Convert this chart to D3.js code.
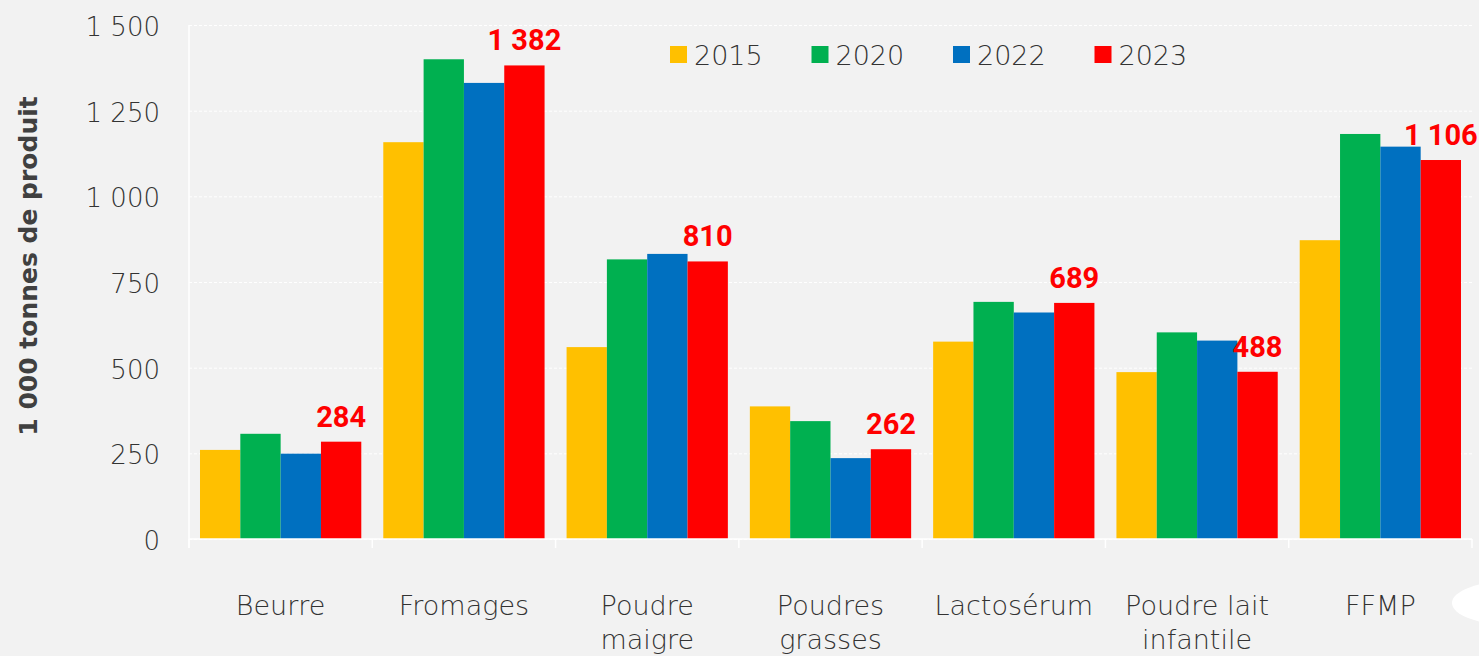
<!DOCTYPE html>
<html>
<head>
<meta charset="utf-8">
<script src="https://cdn.jsdelivr.net/npm/d3@7"></script>
<style>
  body { margin: 0; background: #f2f2f2; }
  svg { display: block; }
  text { font-family: "DejaVu Sans", sans-serif; }
  .grid line { stroke: #ffffff; stroke-dasharray: 3,2; }
  .grid path { display: none; }
  .grid text { fill: #333333; font-size: 26px; font-weight: 200; }
  .catLabel { fill: #333333; font-size: 27px; font-weight: 200; }
  .legendLabel { fill: #333333; font-size: 27px; font-weight: 200; }
  .valueLabel { fill: #ff0000; font-size: 29px; font-weight: bold; font-family: Roboto, sans-serif; }
  .yTitle { fill: #404040; font-size: 25px; font-weight: bold; }
</style>
</head>
<body>
<script>
var categories = ["Beurre", "Fromages", "Poudre maigre", "Poudres grasses", "Lactosérum", "Poudre lait infantile", "FFMP"];
var categoryLines = [["Beurre"], ["Fromages"], ["Poudre", "maigre"], ["Poudres", "grasses"], ["Lactosérum"], ["Poudre lait", "infantile"], ["FFMP"]];
var years = ["2015", "2020", "2022", "2023"];
var values2015 = [260, 1158, 560, 387, 576, 487, 872];
var values2020 = [307, 1400, 816, 344, 692, 603, 1182];
var values2022 = [249, 1331, 832, 236, 661, 579, 1145];
var values2023 = [284, 1382, 810, 262, 689, 488, 1106];
var yTicks = [0, 250, 500, 750, 1000, 1250, 1500];
var colors = ["#FFC000", "#00B050", "#0070C0", "#FF0000"];

var series = [values2015, values2020, values2022, values2023];

var width = 1479, height = 656;
var plot = {left: 189, right: 1472, top: 25, bottom: 539};

var frFormat = d3.formatLocale({decimal: ",", thousands: " ", grouping: [3], currency: ["", " €"]}).format(",d");

var svg = d3.select("body").append("svg")
    .attr("width", width)
    .attr("height", height);

var x0 = d3.scaleBand()
    .domain(categories)
    .range([plot.left, plot.right])
    .paddingInner(0.12)
    .paddingOuter(0.06);

var x1 = d3.scaleBand()
    .domain(years)
    .range([0, x0.bandwidth()]);

var y = d3.scaleLinear()
    .domain([0, 1500])
    .range([plot.bottom, plot.top]);

var color = d3.scaleOrdinal().domain(years).range(colors);

// gridlines + y tick labels
svg.append("g")
    .attr("class", "grid")
    .attr("transform", "translate(" + plot.left + ",0)")
    .call(d3.axisLeft(y).tickValues(yTicks).tickSize(-(plot.right - plot.left)).tickPadding(29).tickFormat(frFormat))
    .selectAll("text")
    .attr("dy", "0.4em");

// bars
var rows = categories.map(function(c, i) {
    return {category: c, values: years.map(function(yr, j) { return {year: yr, value: series[j][i]}; })};
});

var groups = svg.selectAll(".group")
    .data(rows)
    .enter()
    .append("g")
    .attr("class", "group")
    .attr("transform", function(d) { return "translate(" + x0(d.category) + ",0)"; });

groups.selectAll("rect")
    .data(function(d) { return d.values; })
    .enter()
    .append("rect")
    .attr("x", function(d) { return x1(d.year); })
    .attr("y", function(d) { return y(d.value); })
    .attr("width", x1.bandwidth())
    .attr("height", function(d) { return y(0) - y(d.value); })
    .attr("fill", function(d) { return color(d.year); });

// value labels for 2023
groups.append("text")
    .attr("class", "valueLabel")
    .attr("text-anchor", "middle")
    .attr("x", function(d) { return x1("2023") + x1.bandwidth() / 2; })
    .attr("y", function(d) { return y(d.values[3].value) - 15; })
    .text(function(d) { return frFormat(d.values[3].value); });

// axes lines
svg.append("line")
    .attr("x1", plot.left).attr("x2", plot.right)
    .attr("y1", y(0)).attr("y2", y(0))
    .attr("stroke", "#ffffff").attr("stroke-width", 1.5);

svg.append("line")
    .attr("x1", plot.left).attr("x2", plot.left)
    .attr("y1", plot.top).attr("y2", y(0) + 9)
    .attr("stroke", "#ffffff").attr("stroke-width", 1.5);

var boundaries = categories.map(function(c) { return x0(c) - x0.step() * x0.paddingOuter(); });
boundaries.push(plot.right);

svg.selectAll(".catTick")
    .data(boundaries)
    .enter()
    .append("line")
    .attr("class", "catTick")
    .attr("x1", function(d) { return d; }).attr("x2", function(d) { return d; })
    .attr("y1", y(0)).attr("y2", y(0) + 9)
    .attr("stroke", "#ffffff").attr("stroke-width", 1.5);

// category labels
svg.selectAll(".catLabel")
    .data(categories)
    .enter()
    .append("text")
    .attr("class", "catLabel")
    .attr("text-anchor", "middle")
    .attr("x", function(d) { return x0(d) + x0.bandwidth() / 2; })
    .attr("y", 615)
    .selectAll("tspan")
    .data(function(d, i) { return categoryLines[i]; })
    .enter()
    .append("tspan")
    .attr("x", function() { var c = d3.select(this.parentNode).datum(); return x0(c) + x0.bandwidth() / 2; })
    .attr("dy", function(d, i) { return i === 0 ? 0 : 34; })
    .text(function(d) { return d; });

// legend
var legend = svg.selectAll(".legendItem")
    .data(years)
    .enter()
    .append("g")
    .attr("class", "legendItem")
    .attr("transform", function(d, i) { return "translate(" + (670 + i * 141.5) + ",46)"; });

legend.append("rect")
    .attr("width", 17)
    .attr("height", 17)
    .attr("fill", function(d) { return color(d); });

legend.append("text")
    .attr("class", "legendLabel")
    .attr("x", 24)
    .attr("y", 19)
    .text(function(d) { return d; });

// y axis title
svg.append("text")
    .attr("class", "yTitle")
    .attr("text-anchor", "middle")
    .attr("transform", "translate(37,266) rotate(-90)")
    .text("1 000 tonnes de produit");

// white shape at bottom right edge
svg.append("ellipse")
    .attr("cx", 1512).attr("cy", 603)
    .attr("rx", 60).attr("ry", 22)
    .attr("fill", "#ffffff");
</script>
</body>
</html>
